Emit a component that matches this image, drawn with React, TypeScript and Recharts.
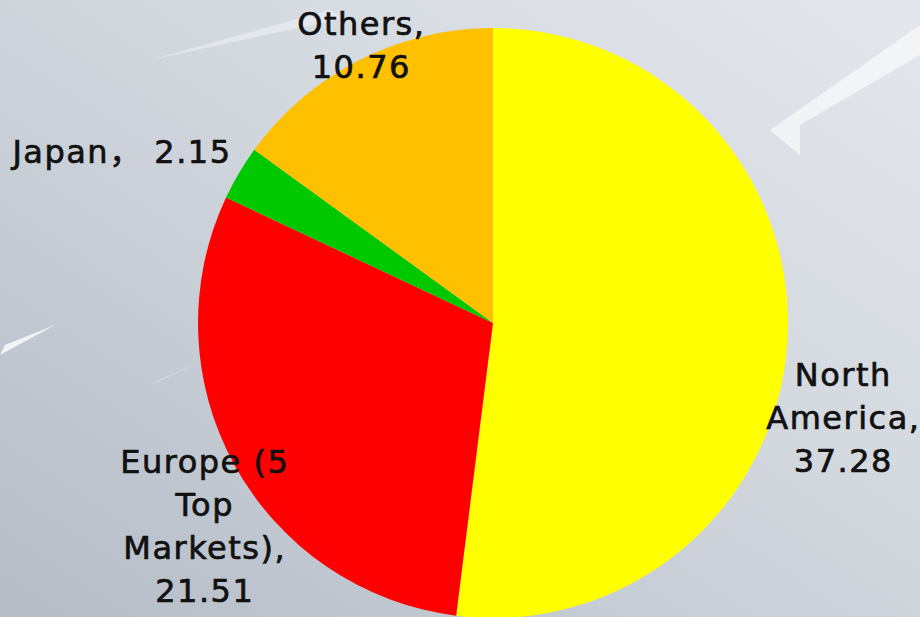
import { PieChart, Pie, Cell } from "recharts";

const regions = ["North America", "Europe (5 Top Markets)", "Japan", "Others"];
const shares = [37.28, 21.51, 2.15, 10.76];
const sliceColors = ["#FFFF00", "#FF0000", "#00C800", "#FFC000"];
// label text broken into lines the way the original wraps it
const labelLines = [
  ["North", "America,", "37.28"],
  ["Europe (5", "Top", "Markets),", "21.51"],
  ["Japan，  2.15"],
  ["Others,", "10.76"],
];

const data = regions.map((name, i) => ({ name, value: shares[i] }));

// nudges so each label sits where the original put it
const nudge = [
  [6, 73],
  [14, 37],
  [-74, 5],
  [25, 30],
];

const RAD = Math.PI / 180;
const LINE_H = 43;

function renderLabel(props: any) {
  const { cx, cy, midAngle, outerRadius, index } = props;
  const r = outerRadius + 50;
  const x = cx + r * Math.cos(-midAngle * RAD) + nudge[index][0];
  const y = cy + r * Math.sin(-midAngle * RAD) + nudge[index][1];
  const lines = labelLines[index];
  const top = y - ((lines.length - 1) * LINE_H) / 2;
  return (
    <text
      key={"lbl-" + index}
      x={x}
      y={top}
      textAnchor="middle"
      dominantBaseline="central"
      fill="#111"
      stroke="#111"
      strokeWidth={0.7}
      fontSize={32}
      letterSpacing={1.5}
      fontFamily="'DejaVu Sans', 'Noto Sans CJK SC', sans-serif"
    >
      {lines.map((t, j) => (
        <tspan key={j} x={x} y={top + j * LINE_H}>
          {t}
        </tspan>
      ))}
    </text>
  );
}

function Backdrop() {
  return (
    <svg
      width={920}
      height={617}
      style={{ position: "absolute", left: 0, top: 0 }}
    >
      <defs>
        <linearGradient id="bg" x1="1" y1="0" x2="0" y2="1">
          <stop offset="0%" stopColor="#e4e7ec" />
          <stop offset="45%" stopColor="#d2d7de" />
          <stop offset="100%" stopColor="#b5bcc6" />
        </linearGradient>
      </defs>
      <rect width={920} height={617} fill="url(#bg)" />
      <path d="M150 60 L330 10 L345 18 Z" fill="#eef0f3" opacity={0.6} />
      <path d="M0 355 L55 325 L5 345 Z" fill="#ffffff" opacity={0.8} />
      <path d="M150 385 L205 360 L160 380 Z" fill="#ffffff" opacity={0.8} />
      <path d="M770 130 L920 25 L920 55 L800 125 L800 155 Z" fill="#f6f7f9" opacity={0.8} />
    </svg>
  );
}

export default function App() {
  return (
    <div
      style={{
        position: "absolute",
        left: 0,
        top: 0,
        width: 920,
        height: 617,
        overflow: "hidden",
      }}
    >
      <Backdrop />
      <div style={{ position: "absolute", left: 0, top: 0 }}>
        <PieChart width={920} height={617} margin={{ top: 0, right: 0, bottom: 0, left: 0 }}>
          <Pie
            data={data}
            dataKey="value"
            nameKey="name"
            cx={493}
            cy={323}
            outerRadius={295}
            startAngle={90}
            endAngle={-270}
            stroke="none"
            labelLine={false}
            label={renderLabel}
            isAnimationActive={false}
          >
            {data.map((d, i) => (
              <Cell key={d.name} fill={sliceColors[i]} />
            ))}
          </Pie>
        </PieChart>
      </div>
    </div>
  );
}
